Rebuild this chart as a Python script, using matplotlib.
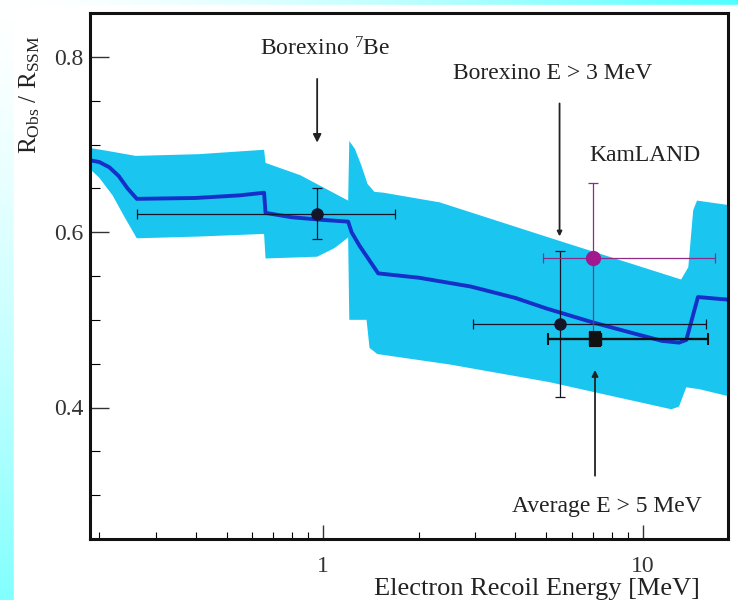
import numpy as np
import matplotlib
matplotlib.use('Agg')
import matplotlib.pyplot as plt
from matplotlib.patches import Rectangle

plt.rcParams['font.family'] = ['Liberation Serif', 'DejaVu Serif']
plt.rcParams['mathtext.fontset'] = 'custom'
plt.rcParams['mathtext.rm'] = 'Liberation Serif'
plt.rcParams['mathtext.it'] = 'Liberation Serif:italic'

# ---- survival probability prediction (central curve) ----
lineE = [0.187, 0.20, 0.215, 0.23, 0.245, 0.262, 0.40, 0.55, 0.655, 0.662, 0.80, 1.0, 1.20,
         1.23, 1.30, 1.49, 2.0, 2.9, 4.0, 5.0, 7.0, 9.5, 11.5, 13.0, 13.7, 14.9, 18.5]
lineR = [0.682, 0.680, 0.674, 0.664, 0.650, 0.638, 0.639, 0.642, 0.645, 0.622, 0.617, 0.614, 0.612,
         0.600, 0.585, 0.553, 0.548, 0.538, 0.525, 0.513, 0.497, 0.484, 0.476, 0.474, 0.477, 0.526, 0.523]

# ---- 1 sigma band: upper and lower edges ----
bandUpE = [0.187, 0.21, 0.26, 0.41, 0.655, 0.662, 0.85, 1.20, 1.21, 1.26, 1.32, 1.38, 1.45,
           1.55, 2.32, 5.5, 13.2, 13.9, 14.4, 14.8, 18.5]
bandUpR = [0.696, 0.693, 0.687, 0.689, 0.694, 0.679, 0.665, 0.636, 0.704, 0.695, 0.676, 0.655, 0.646,
           0.645, 0.634, 0.590, 0.546, 0.560, 0.625, 0.636, 0.631]
bandLoE = [0.187, 0.20, 0.22, 0.24, 0.262, 0.41, 0.655, 0.662, 0.96, 1.09, 1.20, 1.21, 1.37,
           1.40, 1.48, 2.5, 5.1, 12.3, 13.0, 13.7, 15.0, 18.5]
bandLoR = [0.672, 0.662, 0.642, 0.617, 0.593, 0.595, 0.598, 0.570, 0.572, 0.582, 0.594, 0.500, 0.500,
           0.468, 0.461, 0.449, 0.429, 0.398, 0.401, 0.423, 0.421, 0.413]

# ---- measurements ----
be7E, be7R, be7Err = 0.96, 0.621, 0.029
be7Xlo, be7Xhi = 0.262, 1.68
bx3E, bx3R, bx3Err = 5.5, 0.495, 0.083
bx3Xlo, bx3Xhi = 2.94, 15.8
kamE, kamR, kamErr = 6.98, 0.571, 0.085
kamXlo, kamXhi = 4.87, 16.8
avgE, avgR, avgErr = 7.1, 0.478, 0.008
avgXlo, avgXhi = 5.05, 16.0

# ---- figure with gradient frame ----
fig = plt.figure(figsize=(7.38, 6), dpi=100)
bg = fig.add_axes([0, 0, 1, 1])
bg.axis('off')
H, W = 600, 738
xf = np.linspace(0, 1, W)[None, :]
yf = np.linspace(0, 1, H)[:, None]
t = np.maximum(0.69 * xf**1.6, 0.49 * yf**1.4)
img = np.ones((H, W, 3))
img[:, :, 0] = 1 - t
bg.imshow(img, extent=[0, 1, 0, 1], aspect='auto', zorder=0)
bg.add_patch(Rectangle((14 / 738, 0), 1, 595 / 600, color='white', zorder=1))
bg.set_xlim(0, 1)
bg.set_ylim(0, 1)

ax = fig.add_axes([90 / 738, 61 / 600, 638 / 738, 526 / 600])
ax.set_xscale('log')
ax.set_xlim(0.187, 18.5)
ax.set_ylim(0.25, 0.85)

bandColor = '#1ac6f0'
polyE = np.concatenate([bandUpE, bandLoE[::-1]])
polyR = np.concatenate([bandUpR, bandLoR[::-1]])
ax.fill(polyE, polyR, color=bandColor, lw=0, zorder=1)
ax.plot(lineE, lineR, color='#1530c8', lw=2.8, zorder=2)

ekw = dict(capsize=3.5, elinewidth=0.9, capthick=0.9, zorder=4)
ax.errorbar(be7E, be7R, yerr=be7Err, xerr=[[be7E - be7Xlo], [be7Xhi - be7E]],
            fmt='o', color='#15152a', ms=8, **ekw)
ax.errorbar(bx3E, bx3R, yerr=bx3Err, xerr=[[bx3E - bx3Xlo], [bx3Xhi - bx3E]],
            fmt='o', color='#15152a', ms=8, **ekw)
ax.errorbar(kamE, kamR, yerr=kamErr, xerr=[[kamE - kamXlo], [kamXhi - kamE]],
            fmt='o', color='#8e2a88', mfc='#a3188f', mec='#a3188f', ms=10, **ekw)
ax.errorbar(avgE, avgR, yerr=avgErr, xerr=[[avgE - avgXlo], [avgXhi - avgE]],
            fmt='s', color='#111111', ms=8.5, capsize=4, elinewidth=1.7, capthick=1.5, zorder=5)

# labels with arrows
tc = '#222222'
ax.text(1.02, 0.8096, r'Borexino $^{7}$Be', ha='center', va='center', fontsize=17, color=tc)
ax.annotate('', xy=(0.96, 0.699), xytext=(0.96, 0.778),
            arrowprops=dict(arrowstyle='-|>', color=tc, lw=1.3, mutation_scale=12))
ax.text(5.23, 0.781, 'Borexino E > 3 MeV', ha='center', va='center', fontsize=17, color=tc)
ax.annotate('', xy=(bx3E, 0.592), xytext=(bx3E, 0.750),
            arrowprops=dict(arrowstyle='-|>', color=tc, lw=1.3, mutation_scale=7))
ax.text(10.16, 0.687, 'KamLAND', ha='center', va='center', fontsize=17, color=tc)
ax.text(7.72, 0.287, 'Average E > 5 MeV', ha='center', va='center', fontsize=17, color=tc)
ax.annotate('', xy=(avgE, 0.446), xytext=(avgE, 0.319),
            arrowprops=dict(arrowstyle='-|>', color=tc, lw=1.3, mutation_scale=9))

# axes styling
for side in ax.spines.values():
    side.set_linewidth(2.2)
    side.set_color('#111111')
ax.set_yticks([0.4, 0.6, 0.8])
ax.set_yticklabels(['0.4', '0.6', '0.8'])
ax.set_yticks(np.arange(0.3, 0.85, 0.05), minor=True)
ax.set_xticks([1, 10])
ax.set_xticklabels(['1', '10'])
ax.tick_params(axis='y', which='major', direction='in', length=14, width=1, pad=5,
               labelsize=17, colors='#333333', right=False)
ax.tick_params(axis='y', which='minor', direction='in', length=7, width=0.8, right=False)
ax.tick_params(axis='x', which='major', direction='in', length=10, width=1, pad=12,
               labelsize=17, colors='#333333', top=False)
ax.tick_params(axis='x', which='minor', direction='in', length=5, width=0.8, top=False)
ax.tick_params(axis='x', which='minor', labelbottom=False)

ax.text(0.70, -0.095, 'Electron Recoil Energy [MeV]', transform=ax.transAxes,
        ha='center', va='center', fontsize=19, color=tc)
ax.text(-0.094, 0.844, r'R$_{\rm Obs}$ / R$_{\rm SSM}$', transform=ax.transAxes,
        rotation=90, ha='center', va='center', fontsize=18, color=tc)

fig.savefig('out.png', dpi=100)
